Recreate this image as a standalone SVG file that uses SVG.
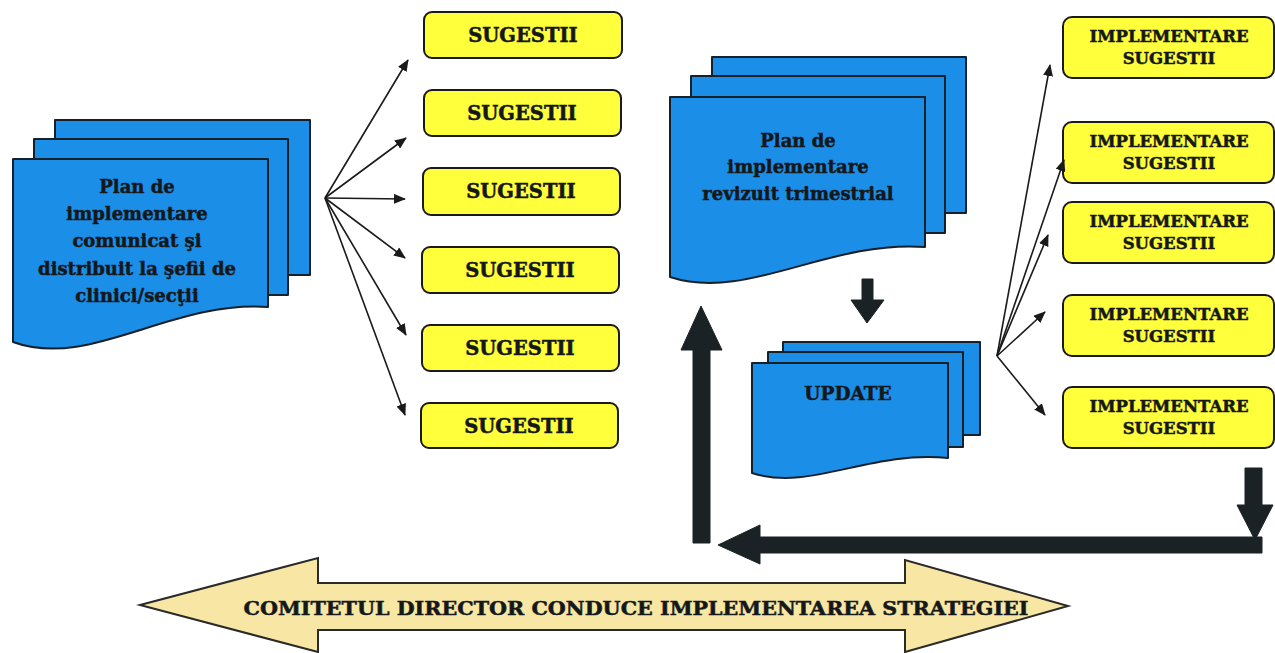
<svg xmlns="http://www.w3.org/2000/svg" width="1275" height="653" viewBox="0 0 1275 653">
  <style>
    .doc { fill: #1B8EE8; stroke: #152028; stroke-width: 2; stroke-linejoin: round; }
    .box { fill: #FFFF3C; stroke: #1a1a1a; stroke-width: 2; }
    .txt { font-family: "DejaVu Serif", "Liberation Serif", serif; font-weight: bold; fill: #15181a; stroke: #15181a; stroke-width: 0.5; text-anchor: middle; }
    .doctxt { font-size: 18px; }
    .sug { font-size: 19.5px; }
    .imp { font-size: 16.5px; }
    .thin { fill: none; stroke: #1a1a1a; stroke-width: 1.6; marker-end: url(#tip); }
    .thick { fill: #1B2225; stroke: #1B2225; stroke-width: 1; stroke-linejoin: round; }
  </style>
  <defs>
    <marker id="tip" viewBox="0 0 12 10" refX="11" refY="5" markerWidth="12" markerHeight="10" markerUnits="userSpaceOnUse" orient="auto">
      <path d="M0,0 L12,5 L0,10 Z" fill="#1a1a1a"/>
    </marker>
  </defs>
  <rect width="1275" height="653" fill="#ffffff"/>

  <!-- stacked document: distributed plan -->
  <g id="plan-comunicat">
    <rect class="doc" x="55" y="120" width="255" height="155"/>
    <rect class="doc" x="34" y="139" width="254" height="156"/>
    <path class="doc" d="M13,159 H268 V307 C170,300 90,370 13,342 Z"/>
    <text class="txt doctxt" x="137" y="193">Plan de</text>
    <text class="txt doctxt" x="137" y="220">implementare</text>
    <text class="txt doctxt" x="137" y="247">comunicat şi</text>
    <text class="txt doctxt" x="137" y="275">distribuit la şefii de</text>
    <text class="txt doctxt" x="137" y="302">clinici/secţii</text>
  </g>

  <!-- suggestion boxes -->
  <g id="sugestii-1"><rect class="box" x="424" y="12" width="198" height="46" rx="8"/><text class="txt sug" x="523" y="42">SUGESTII</text></g>
  <g id="sugestii-2"><rect class="box" x="424" y="90" width="197" height="46" rx="8"/><text class="txt sug" x="522" y="120">SUGESTII</text></g>
  <g id="sugestii-3"><rect class="box" x="423" y="168" width="197" height="47" rx="8"/><text class="txt sug" x="521" y="198">SUGESTII</text></g>
  <g id="sugestii-4"><rect class="box" x="422" y="247" width="197" height="46" rx="8"/><text class="txt sug" x="520" y="277">SUGESTII</text></g>
  <g id="sugestii-5"><rect class="box" x="422" y="325" width="197" height="46" rx="8"/><text class="txt sug" x="520" y="355">SUGESTII</text></g>
  <g id="sugestii-6"><rect class="box" x="421" y="403" width="197" height="45" rx="8"/><text class="txt sug" x="519" y="433">SUGESTII</text></g>

  <!-- stacked document: quarterly revised plan -->
  <g id="plan-revizuit">
    <rect class="doc" x="712" y="57" width="254" height="156"/>
    <rect class="doc" x="691" y="76" width="254" height="157"/>
    <path class="doc" d="M670,97 H925 V247 C827,240 747,302 670,277 Z"/>
    <text class="txt doctxt" x="798" y="147">Plan de</text>
    <text class="txt doctxt" x="798" y="173">implementare</text>
    <text class="txt doctxt" x="798" y="200">revizuit trimestrial</text>
  </g>

  <!-- stacked document: update -->
  <g id="update">
    <rect class="doc" x="783" y="342" width="197" height="93"/>
    <rect class="doc" x="768" y="352" width="195" height="95"/>
    <path class="doc" d="M752,363 H948 V458 C870,450 810,492 752,473 Z"/>
    <text class="txt" x="848" y="400" font-size="18.5">UPDATE</text>
  </g>

  <!-- implementation boxes -->
  <g id="implementare-1"><rect class="box" x="1063" y="17" width="211" height="61" rx="9"/><text class="txt imp" x="1169" y="42">IMPLEMENTARE</text><text class="txt imp" x="1169" y="64">SUGESTII</text></g>
  <g id="implementare-2"><rect class="box" x="1063" y="122" width="211" height="61" rx="9"/><text class="txt imp" x="1169" y="147">IMPLEMENTARE</text><text class="txt imp" x="1169" y="169">SUGESTII</text></g>
  <g id="implementare-3"><rect class="box" x="1063" y="202" width="211" height="61" rx="9"/><text class="txt imp" x="1169" y="227">IMPLEMENTARE</text><text class="txt imp" x="1169" y="249">SUGESTII</text></g>
  <g id="implementare-4"><rect class="box" x="1063" y="295" width="211" height="61" rx="9"/><text class="txt imp" x="1169" y="320">IMPLEMENTARE</text><text class="txt imp" x="1169" y="342">SUGESTII</text></g>
  <g id="implementare-5"><rect class="box" x="1063" y="387" width="211" height="61" rx="9"/><text class="txt imp" x="1169" y="412">IMPLEMENTARE</text><text class="txt imp" x="1169" y="434">SUGESTII</text></g>

  <!-- steering committee banner -->
  <g id="comitetul-director">
    <path d="M140,605 L318,558 L318,583 L905,583 L905,560 L1068,606 L905,652 L905,630 L318,630 L318,652 Z" fill="#F8E7A4" stroke="#2a2a2a" stroke-width="2" stroke-linejoin="miter"/>
    <text class="txt" x="636" y="615" font-size="19" textLength="785" lengthAdjust="spacingAndGlyphs">COMITETUL DIRECTOR CONDUCE IMPLEMENTAREA STRATEGIEI</text>
  </g>

  <!-- connectors -->
  <g id="connectors">
    <line class="thin" x1="325" y1="198" x2="408" y2="60"/>
    <line class="thin" x1="325" y1="198" x2="406" y2="138"/>
    <line class="thin" x1="325" y1="198" x2="405" y2="199"/>
    <line class="thin" x1="325" y1="198" x2="405" y2="258"/>
    <line class="thin" x1="325" y1="198" x2="406" y2="335"/>
    <line class="thin" x1="325" y1="198" x2="405" y2="415"/>

    <line class="thin" x1="997" y1="356" x2="1050" y2="65"/>
    <line class="thin" x1="997" y1="356" x2="1064" y2="160"/>
    <line class="thin" x1="997" y1="356" x2="1048" y2="235"/>
    <line class="thin" x1="997" y1="356" x2="1045" y2="312"/>
    <line class="thin" x1="997" y1="356" x2="1045" y2="415"/>

    <!-- plan to update -->
    <path class="thick" d="M862,279 H873 V300 H884 L867,323 L851,300 H862 Z"/>
    <!-- feedback loop -->
    <path class="thick" d="M1245,468 H1262 V505 H1273 L1255,540 L1237,505 H1245 Z"/>
    <path class="thick" d="M1262,537 V553 H760 V564 L718,545 L760,525 V537 Z"/>
    <path class="thick" d="M693,543 V350 H681 L701,306 L722,350 H710 V543 Z"/>
  </g>
</svg>
